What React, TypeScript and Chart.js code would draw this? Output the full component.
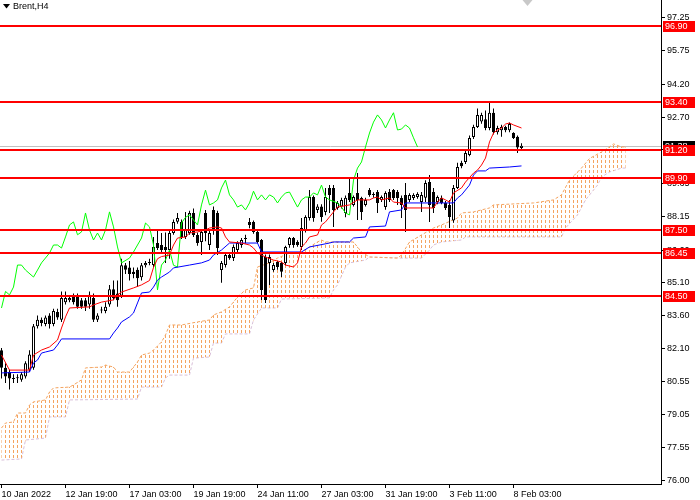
import React, { useEffect, useRef } from 'react';
import { Chart, registerables } from 'chart.js';

Chart.register(...registerables);

// ---- candles (H4 bars, index 0 = 10 Jan 2022 00:00) ----
const opens = [82.0,81.2,81.0,80.7,80.72,80.65,80.8,81.1,81.2,83.1, 83.4,83.2,83.6,83.2,83.75,83.4,84.2,84.3,84.45,84.45, 84.3,84.3,84.1,84.4,83.4,83.85,83.8,84.1,84.8,84.6, 84.5,85.9,85.8,85.6,85.7,85.35,85.9,86.0,85.91,86.92, 86.83,86.74,86.6,87.38,87.9,87.89,87.2,87.38,88.3,87.29, 86.97,88.3,86.83,88.44,88.3,85.68,85.91,86.37,86.23,86.6, 86.83,87.1,87.89,87.89,87.43,87.06,86.28,86.0,85.68,86.05, 86.0,86.0,86.83,87.15,86.97,86.74,87.52,88.07,89.03,88.44, 88.6,88.35,89.45,89.45,88.53,88.6,88.3,89.22,88.67,89.22, 88.99,88.67,89.35,89.12,89.26,88.9,88.57,89.26,89.35,89.26, 88.99,89.13,88.9,88.99,89.03,88.8,89.0,89.72,89.26,88.8, 89.0,88.76,88.67,87.95,89.45,90.6,90.64,90.96,91.79,92.25, 92.5,92.6,92.2,92.9,92.0,92.1,92.25,92.1,91.97,91.8, 91.28];
const highs = [82.1,81.4,81.1,80.9,80.9,81.0,81.5,82.0,83.2,83.6, 83.5,83.6,83.7,83.9,83.9,84.7,84.7,84.5,84.6,84.6, 84.4,84.4,84.7,84.6,83.7,84.0,84.2,85.0,85.2,85.2, 86.2,86.0,86.1,85.8,85.8,86.0,86.1,86.2,87.2,87.52, 87.38,87.4,87.5,88.0,88.3,88.0,88.35,88.4,88.5,87.4, 87.5,88.44,87.5,88.6,88.4,86.1,86.5,86.45,86.85,87.0, 87.15,87.3,88.07,87.95,87.5,87.1,86.4,86.4,86.0,86.1, 86.05,86.8,87.2,87.2,87.05,88.07,88.2,89.35,89.1,88.7, 88.7,89.45,89.58,89.58,88.85,89.0,89.1,89.95,89.1,90.13, 89.05,89.0,89.45,89.25,89.35,89.1,89.3,89.4,89.4,89.35, 89.1,89.68,89.2,89.2,89.25,89.26,89.8,90.04,89.45,89.1, 89.1,88.85,88.9,89.58,90.6,90.7,91.15,91.85,92.35,93.1, 92.9,93.0,93.35,93.1,92.3,92.35,92.3,92.45,92.0,91.85, 91.5];
const lows = [80.7,80.5,80.2,80.5,80.5,80.55,80.7,81.0,81.1,83.0, 83.1,83.1,83.0,83.1,83.4,83.3,84.1,84.2,84.1,83.9, 83.9,83.8,83.9,83.3,83.3,83.7,83.7,84.0,84.3,84.0, 84.4,85.5,85.2,85.3,84.9,85.2,85.8,85.9,85.8,86.6, 86.5,86.0,86.2,87.3,87.8,87.1,87.1,87.3,87.2,86.8, 86.37,87.0,86.6,87.3,86.37,85.1,85.8,86.15,86.1,86.5, 86.7,86.9,87.6,87.35,86.9,84.31,84.17,85.0,85.6,85.7, 85.36,85.9,86.7,86.7,86.75,86.6,87.4,87.95,87.9,88.3, 87.9,88.2,88.3,87.66,88.45,88.5,88.1,88.8,88.6,87.98, 87.98,88.6,89.05,89.0,88.3,88.8,88.45,88.8,88.9,88.67, 88.07,87.43,88.8,88.9,88.95,88.35,88.8,87.89,88.3,88.7, 88.7,88.44,87.61,87.85,89.4,90.35,90.55,90.9,91.7,92.2, 92.4,92.1,92.1,91.9,91.9,91.8,92.0,92.0,91.7,91.05, 91.2];
const closes = [81.2,80.8,80.7,80.68,80.75,80.9,81.4,81.8,83.1,83.4, 83.25,83.5,83.2,83.8,83.5,84.4,84.4,84.4,84.2,84.0, 84.0,84.0,84.55,83.4,83.6,83.83,84.0,84.8,84.4,84.3, 85.9,85.7,85.5,85.5,85.3,85.9,86.0,86.03,86.74,86.69, 86.6,86.6,87.38,87.89,88.07,87.2,87.52,88.3,87.29,86.92, 87.43,87.38,87.38,87.52,86.69,86.0,86.37,86.23,86.74,86.92, 87.06,87.12,87.75,87.43,86.97,84.77,84.31,86.28,85.91,85.82, 85.6,86.74,87.15,86.83,86.83,87.61,88.12,89.03,88.07,88.6, 88.12,89.03,89.13,88.44,88.76,88.9,89.0,88.9,89.03,88.9, 88.35,88.9,89.13,89.14,88.76,89.03,89.22,88.9,88.99,88.99, 88.67,88.44,89.13,89.13,89.17,89.13,89.68,88.67,88.53,89.03, 88.76,88.53,88.12,89.45,90.41,90.45,91.05,91.74,92.25,92.8, 92.8,92.2,92.9,92.0,92.2,92.25,92.1,92.38,91.74,91.3, 91.38];

// ---- Ichimoku lines (bar index, price) ----
const tenkanIdx = [0,2,7,8,10,12,14,15,16,17,22,23,25,28,29,30,33,35,37,38,39,40,42,43,44,46,47,49,51,52,54,55,56,57,60,62,63,64,66,68,70,71,73,74,75,76,77,79,80,81,82,84,87,89,92,93,94,95,97,98,100,101,108,109,110,111,112,113,115,116,118,119,120,121,122,123,124,125,126,127,128,130];
const tenkanVal = [81.78,81.09,81.09,81.78,82.01,82.15,82.47,83.02,83.53,83.94,83.99,84.08,84.21,84.31,84.54,84.67,84.86,85.00,85.20,85.80,86.20,86.30,86.37,86.83,87.15,87.20,87.38,87.43,87.52,87.61,87.66,87.61,87.20,86.97,86.92,86.83,86.69,86.46,86.28,86.14,86.05,85.91,85.82,86.01,86.74,86.92,87.20,87.29,87.75,87.89,88.12,88.57,88.67,88.90,88.90,88.99,89.03,88.90,88.99,88.80,88.76,88.53,88.53,88.80,88.99,88.90,88.80,89.22,89.45,89.72,90.13,90.27,90.50,90.82,91.56,91.97,92.11,92.20,92.38,92.43,92.34,92.20];
const kijunIdx = [0,7,8,9,10,11,13,14,15,27,28,29,30,32,33,34,35,37,38,39,40,42,43,47,50,52,53,55,57,64,65,75,77,82,83,87,88,91,92,96,97,100,101,113,114,115,117,118,119,121,122,127,130];
const kijunVal = [80.96,81.00,81.42,81.55,81.87,81.92,82.01,82.24,82.52,82.52,82.79,83.02,83.30,83.53,83.71,84.17,84.63,84.67,84.90,85.22,85.36,85.59,85.78,85.91,86.01,86.14,86.37,86.60,86.92,86.92,86.51,86.51,86.74,86.92,86.97,86.97,87.15,87.20,87.66,87.70,88.35,88.44,88.76,88.76,88.99,89.13,89.58,90.04,90.23,90.23,90.36,90.41,90.46];
const chikouIdx = [0,1,2,3,4,5,6,8,9,10,12,13,14,15,16,17,18,19,20,21,22,23,24,25,26,27,28,29,30,32,33,35,36,37,38,39,40,41,42,43,44,45,46,47,48,49,50,51,52,53,54,55,56,57,58,59,60,61,62,63,64,65,66,67,68,69,70,71,72,74,75,76,77,78,79,80,81,82,84,85,86,87,88,89,90,91,92,93,94,95,96,97,98,99,100,101,102,103,104];
const chikouVal = [83.94,84.70,84.54,84.90,85.91,85.91,85.68,85.36,85.68,86.01,86.46,86.83,86.83,86.69,87.20,87.75,87.89,87.30,87.43,88.30,87.52,87.06,87.38,87.06,87.52,88.35,87.66,86.74,86.01,86.23,86.51,87.15,87.84,87.66,86.83,84.77,85.91,86.14,86.60,85.90,85.82,87.84,88.10,88.21,87.98,87.75,88.67,89.35,88.67,88.76,88.90,89.45,89.81,89.13,88.90,88.57,88.67,88.44,88.76,89.30,88.90,89.13,88.90,89.13,89.03,88.76,89.03,89.22,89.26,88.57,88.90,89.03,89.03,89.22,89.13,89.58,89.03,88.90,88.76,88.57,88.30,88.21,89.81,90.36,90.64,91.33,91.97,92.47,92.80,92.57,92.20,92.57,92.90,92.11,92.15,92.34,92.20,91.75,91.33];
const spanAIdx = [0,1,3,4,6,7,8,11,12,13,17,18,20,21,25,26,28,29,32,34,35,37,38,40,41,42,45,49,52,53,55,57,59,61,63,64,67,69,72,75,77,79,80,81,88,89,90,92,99,100,102,105,108,110,114,115,118,122,123,133,138,140,142,145,147,150,152,153,155,156];
const spanAVal = [78.43,78.66,78.71,79.12,79.12,79.49,79.63,79.72,80.08,80.27,80.31,80.41,80.64,81.19,81.23,81.32,81.23,81.00,81.00,81.46,81.78,81.87,82.01,82.38,82.70,83.16,83.16,83.30,83.39,83.62,83.76,83.99,84.44,84.77,84.86,85.82,86.01,86.23,86.46,86.51,86.74,86.97,87.06,86.97,86.97,86.74,86.51,86.28,86.23,86.37,86.97,87.29,87.61,87.75,88.07,88.30,88.35,88.53,88.67,88.76,88.90,89.13,89.81,90.36,90.80,91.10,91.33,91.47,91.33,91.33];
const spanBIdx = [0,5,6,11,12,16,17,34,35,40,41,42,47,48,52,53,55,56,62,63,65,69,70,82,83,84,86,87,91,92,100,105,107,108,110,115,116,140,141,144,146,149,150,152,155,156];
const spanBVal = [76.96,77.01,77.88,77.97,78.94,78.94,79.72,79.76,80.31,80.31,80.73,80.86,80.86,81.64,81.69,82.33,82.33,82.75,82.75,83.39,83.94,83.94,84.35,84.40,84.77,85.00,85.82,86.01,86.14,86.28,86.23,86.23,86.60,86.83,86.97,87.06,87.20,87.20,87.61,88.21,88.90,89.58,89.95,90.18,90.36,90.36];

// ---- levels & axes ----
const levels = [96.9, 93.4, 91.2, 89.9, 87.5, 86.45, 84.5];
const bidPrice = 91.38;
const yTicks = [97.25, 95.75, 94.2, 92.7, 91.2, 89.65, 88.15, 86.6, 85.1, 83.6, 82.1, 80.55, 79.05, 77.55, 76.0];
const xTickIdx = [0, 16, 32, 48, 64, 80, 96, 112, 128];
const xTickLabels = ['10 Jan 2022', '12 Jan 19:00', '17 Jan 03:00', '19 Jan 19:00', '24 Jan 11:00', '27 Jan 03:00', '31 Jan 19:00', '3 Feb 11:00', '8 Feb 03:00'];
const symbolLabel = 'Brent,H4';

const FONT_FAMILY = '"Liberation Sans", Arial, sans-serif';
const SPAN_A = 5; // dataset index of Senkou A (Senkou B follows)

export default function App() {
  const ref = useRef<HTMLCanvasElement | null>(null);

  useEffect(() => {
    const canvas = ref.current;
    if (!canvas) return;
    const ctx2d = canvas.getContext('2d') as CanvasRenderingContext2D;

    const idx = closes.map((_, i) => i);
    const pts = (xs: number[], ys: number[]) => xs.map((x, k) => ({ x, y: ys[k] }));
    const font = { family: FONT_FAMILY, size: 9 };

    const overlay = {
      id: 'overlay',
      beforeDatasetsDraw(chart: any) {
        const { ctx, chartArea: a, scales } = chart;
        const py = Math.round(scales.y.getPixelForValue(bidPrice)) + 0.5;
        ctx.save();
        ctx.strokeStyle = '#C0C0C0';
        ctx.lineWidth = 1;
        ctx.beginPath();
        ctx.moveTo(a.left, py);
        ctx.lineTo(a.right, py);
        ctx.stroke();
        ctx.restore();
      },
      // Kumo hatch: dotted vertical lines per bar, clipped between Senkou A and Senkou B
      beforeDatasetDraw(chart: any, args: any) {
        if (args.index !== SPAN_A) return;
        const { ctx, chartArea: a, scales } = chart;
        const ptsA = chart.getDatasetMeta(SPAN_A).data;
        const ptsB = chart.getDatasetMeta(SPAN_A + 1).data;
        ctx.save();
        ctx.beginPath();
        ptsA.forEach((pt: any, k: number) => (k ? ctx.lineTo(pt.x, pt.y) : ctx.moveTo(pt.x, pt.y)));
        for (let k = ptsB.length - 1; k >= 0; k--) ctx.lineTo(ptsB[k].x, ptsB[k].y);
        ctx.closePath();
        ctx.clip();
        ctx.strokeStyle = '#F4A460';
        ctx.lineWidth = 1;
        ctx.setLineDash([3, 2]);
        ctx.beginPath();
        const first = spanAIdx[0];
        const last = spanAIdx[spanAIdx.length - 1];
        for (let i = first; i <= last; i++) {
          const x = scales.x.getPixelForValue(i);
          ctx.moveTo(x, a.top);
          ctx.lineTo(x, a.bottom);
        }
        ctx.stroke();
        ctx.restore();
      },
      afterDatasetsDraw(chart: any) {
        const { ctx, chartArea: a, scales } = chart;
        ctx.save();
        ctx.strokeStyle = '#FF0000';
        ctx.lineWidth = 2;
        for (const lv of levels) {
          const py = Math.round(scales.y.getPixelForValue(lv));
          ctx.beginPath();
          ctx.moveTo(a.left, py);
          ctx.lineTo(a.right, py);
          ctx.stroke();
        }
        ctx.restore();
      },
      afterDraw(chart: any) {
        const { ctx, chartArea: a, scales } = chart;
        ctx.save();
        ctx.font = `9px ${FONT_FAMILY}`;
        ctx.textBaseline = 'middle';
        ctx.textAlign = 'left';
        const box = (value: number, bg: string) => {
          const py = Math.round(scales.y.getPixelForValue(value));
          ctx.fillStyle = bg;
          ctx.fillRect(a.right + 2, py - 5, 32, 11);
          ctx.fillStyle = '#FFFFFF';
          ctx.fillText(value.toFixed(2), a.right + 4, py + 0.5);
        };
        box(bidPrice, '#000000');
        for (const lv of levels) box(lv, '#FF0000');

        // symbol caption
        ctx.fillStyle = '#000000';
        ctx.beginPath();
        ctx.moveTo(3, 4);
        ctx.lineTo(10, 4);
        ctx.lineTo(6.5, 8.5);
        ctx.closePath();
        ctx.fill();
        ctx.fillText(symbolLabel, 13, 7);

        // chart shift marker
        const sx = scales.x.getPixelForValue(131.5);
        ctx.fillStyle = '#C8C8C8';
        ctx.beginPath();
        ctx.moveTo(sx - 5, 0);
        ctx.lineTo(sx + 5, 0);
        ctx.lineTo(sx, 6);
        ctx.closePath();
        ctx.fill();
        ctx.restore();
      },
    };

    const chart = new Chart(ctx2d, {
      type: 'bar',
      data: {
        datasets: [
          { type: 'line', label: 'Tenkan', data: pts(tenkanIdx, tenkanVal), borderColor: '#FF0000', borderWidth: 1, pointRadius: 0, tension: 0, fill: false, order: 0 },
          { type: 'line', label: 'Kijun', data: pts(kijunIdx, kijunVal), borderColor: '#0000FF', borderWidth: 1, pointRadius: 0, tension: 0, fill: false, order: 0 },
          { type: 'line', label: 'Chikou', data: pts(chikouIdx, chikouVal), borderColor: '#00FF00', borderWidth: 1, pointRadius: 0, tension: 0, fill: false, order: 0 },
          {
            type: 'bar', label: 'Body',
            data: idx.map((i) => ({ x: i, y: [opens[i], closes[i]] })),
            backgroundColor: (c: any) => (closes[c.dataIndex] >= opens[c.dataIndex] ? '#FFFFFF' : '#000000'),
            borderColor: '#000000', borderWidth: 1, borderSkipped: false, barThickness: 3, minBarLength: 1, inflateAmount: 0, stack: 'c', order: 1,
          },
          {
            type: 'bar', label: 'Wick',
            data: idx.map((i) => ({ x: i, y: [lows[i], highs[i]] })),
            backgroundColor: '#000000', borderWidth: 0, barThickness: 1, inflateAmount: 0, stack: 'c', order: 2,
          },
          { type: 'line', label: 'Senkou A', data: pts(spanAIdx, spanAVal), borderColor: '#F4A460', borderWidth: 1, borderDash: [3, 2], pointRadius: 0, tension: 0, fill: false, order: 3 },
          { type: 'line', label: 'Senkou B', data: pts(spanBIdx, spanBVal), borderColor: '#D8BFD8', borderWidth: 1, borderDash: [3, 2], pointRadius: 0, tension: 0, fill: false, order: 3 },
        ] as any,
      },
      options: {
        animation: false,
        responsive: false,
        devicePixelRatio: 1,
        events: [],
        layout: { padding: 0 },
        plugins: { legend: { display: false }, tooltip: { enabled: false }, title: { display: false } },
        scales: {
          x: {
            type: 'linear', min: -0.375, max: 164.875, offset: false,
            grid: { display: true, drawOnChartArea: false, drawTicks: true, tickLength: 4, color: '#000000', offset: false },
            border: { display: true, color: '#000000', width: 1 },
            ticks: { autoSkip: false, maxRotation: 0, minRotation: 0, align: 'start', padding: 1, color: '#000000', font, callback: (_v: any, i: number) => xTickLabels[i] ?? '' },
            afterBuildTicks: (s: any) => { s.ticks = xTickIdx.map((v) => ({ value: v })); },
            afterFit: (s: any) => { s.height = 16; s.paddingLeft = 0; s.paddingRight = 0; },
          },
          y: {
            type: 'linear', position: 'right', min: 75.862, max: 98.074, stacked: false, beginAtZero: false,
            grid: { display: true, drawOnChartArea: false, drawTicks: true, tickLength: 4, color: '#000000' },
            border: { display: true, color: '#000000', width: 1 },
            ticks: { autoSkip: false, padding: 2, color: '#000000', font, callback: (v: any) => Number(v).toFixed(2) },
            afterBuildTicks: (s: any) => { s.ticks = yTicks.map((v) => ({ value: v })); },
            afterFit: (s: any) => { s.width = 39; s.paddingTop = 0; s.paddingBottom = 0; },
          },
        },
      } as any,
      plugins: [overlay],
    });

    return () => chart.destroy();
  }, []);

  return (
    <div style={{ position: 'fixed', left: 0, top: 0, width: 700, height: 500, background: '#FFFFFF' }}>
      <canvas ref={ref} width={700} height={500} style={{ display: 'block' }} />
    </div>
  );
}
